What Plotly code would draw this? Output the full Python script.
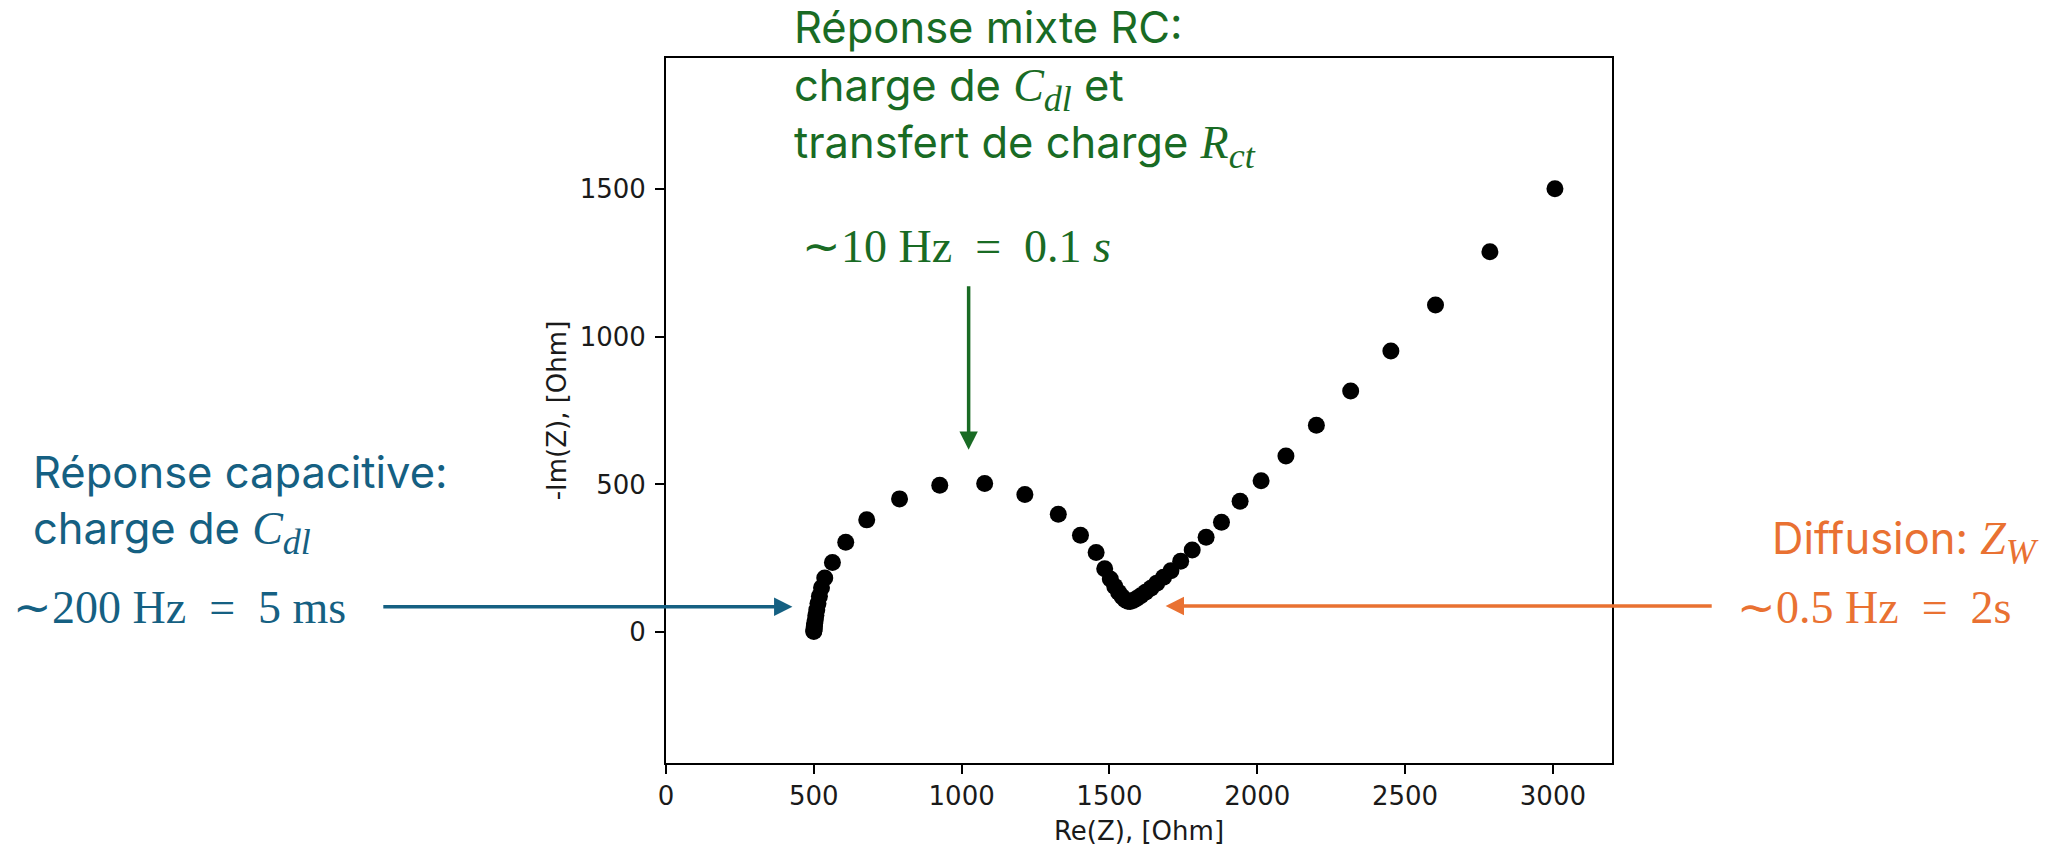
import plotly.graph_objects as go

# ---- data ----
re_z = [500, 500, 501, 501, 502, 503, 505, 507, 510, 514, 519, 526, 537, 563, 608,
        679, 790, 926, 1078, 1214, 1327, 1402, 1455, 1484, 1503, 1518, 1531, 1543,
        1553, 1562, 1570, 1580, 1592, 1606, 1622, 1640, 1660, 1683, 1708, 1741, 1780,
        1827, 1879, 1942, 2013, 2097, 2200, 2316, 2452, 2603, 2787, 3007]
im_z = [2, 5, 9, 14, 21, 30, 42, 57, 75, 97, 122, 150, 183, 236, 304,
        380, 451, 497, 503, 466, 399, 328, 270, 215, 180, 155, 135, 120,
        110, 105, 104, 107, 114, 123, 135, 149, 166, 186, 208, 240, 278,
        321, 372, 443, 512, 596, 700, 816, 951, 1107, 1287, 1500]

x_ticks = [0, 500, 1000, 1500, 2000, 2500, 3000]
y_ticks = [0, 500, 1000, 1500]
x_title = "Re(Z), [Ohm]"
y_title = "-Im(Z), [Ohm]"

BLUE = "#156082"
GREEN = "#196B24"
ORANGE = "#E97132"

W, H = 2052, 846
L, R, T, B = 666, 1612, 58, 763


def pxx(p):
    return (p - L) / (R - L)


def pxy(p):
    return (B - p) / (B - T)


SANS = "Inter"
SERIF = "Liberation Serif"
FS = 43.5
MS = 46


def sym(base, sub):
    return (f"<span style='font-family:{SERIF};font-size:46px'><i>{base}</i>"
            f"<sub><span style='font-size:36px'><i>{sub}</i></span></sub></span>")


fig = go.Figure()
fig.add_trace(go.Scatter(x=re_z, y=im_z, mode="markers",
                         marker=dict(color="black", size=17),
                         showlegend=False, hoverinfo="skip", cliponaxis=False))

annos = []


def text(t, x, baseline, color, family=SANS, size=FS, anchor="left", asc=0.969):
    annos.append(dict(text=t, xref="paper", yref="paper", x=pxx(x),
                      y=pxy(baseline - asc * size), xanchor=anchor, yanchor="top",
                      showarrow=False, borderpad=0,
                      font=dict(family=family, size=size, color=color)))


# green block
text("Réponse mixte RC:", 792.8, 41.7, GREEN)
text("charge de " + sym("C", "dl") + " et", 792.8, 100.5, GREEN)
text("transfert de charge " + sym("R", "ct"), 792.8, 157.5, GREEN)
text("∼10 Hz\u2002=\u20020.1 <i>s</i>", 801, 260.6, GREEN, family=SERIF, size=MS, asc=0.891)

# blue block
text("Réponse capacitive:", 32.4, 486.7, BLUE)
text("charge de " + sym("C", "dl"), 32.4, 543, BLUE)
text("∼200 Hz\u2002=\u20025 ms", 12, 621.7, BLUE, family=SERIF, size=MS, asc=0.891)

# orange block
text("Diffusion: " + sym("Z", "W"), 2040, 553.3, ORANGE, anchor="right")
text("∼0.5 Hz\u2002=\u20022s", 2012, 621.7, ORANGE, family=SERIF, size=MS, asc=0.891, anchor="right")

# arrows (tip in data coordinates, tail offset in pixels)
for tip_x, tip_y, ax, ay, col in [(427.6, 86, -410.6, 0, BLUE),
                                   (1690, 88.6, 547.6, 0, ORANGE),
                                   (1023.7, 617, 0, -165.1, GREEN)]:
    annos.append(dict(x=tip_x, y=tip_y, xref="x", yref="y", ax=ax, ay=ay,
                      axref="pixel", ayref="pixel", text="", showarrow=True,
                      arrowhead=2, arrowsize=1.05, arrowwidth=3.5, arrowcolor=col,
                      standoff=0, startstandoff=0))

axis_common = dict(showgrid=False, zeroline=False, showline=True, mirror=True,
                   linecolor="black", linewidth=2, ticks="outside", ticklen=9,
                   tickwidth=2, tickcolor="black", automargin=False,
                   tickfont=dict(family="DejaVu Sans", size=26, color="#1a1a1a"),
                   title_font=dict(family="DejaVu Sans", size=26, color="#1a1a1a"))

fig.update_layout(
    width=W, height=H,
    margin=dict(l=L, r=W - R, t=T, b=H - B, pad=0),
    paper_bgcolor="white", plot_bgcolor="white",
    xaxis=dict(range=[0, 3200], tickvals=x_ticks, title=dict(text=x_title, standoff=14),
               ticklabelstandoff=0, **axis_common),
    yaxis=dict(range=[-442.5, 1942.5], tickvals=y_ticks, title=dict(text=y_title, standoff=6),
               ticklabelstandoff=4, **axis_common),
    annotations=annos,
)

fig.write_html("out.html")
